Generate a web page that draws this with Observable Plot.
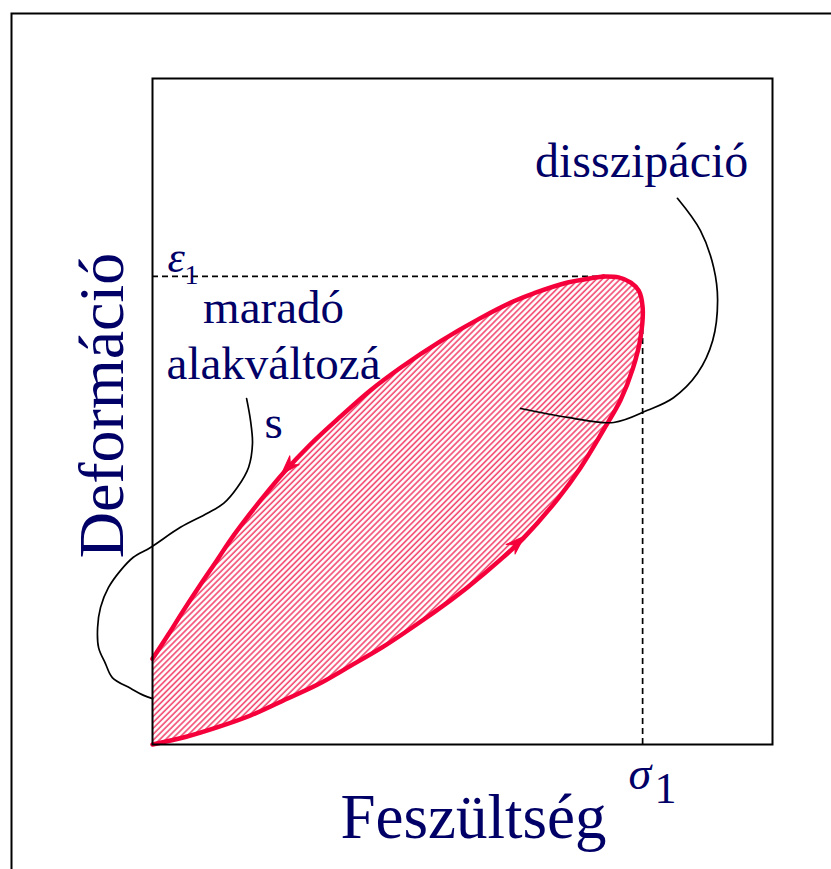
<!DOCTYPE html>
<html>
<head>
<meta charset="utf-8">
<script src="https://cdn.jsdelivr.net/npm/d3@7"></script>
<script src="https://cdn.jsdelivr.net/npm/@observablehq/plot@0.6"></script>
<style>
  body { margin: 0; background: #fff; }
  #chart { position: relative; width: 831px; height: 869px; overflow: hidden; }
</style>
</head>
<body>
<div id="chart"></div>
<script>
// Loading branch (stress σ / σ1, strain ε / ε1), from origin up to the peak
const lowerStress = [0.000, 0.067, 0.133, 0.200, 0.267, 0.337, 0.404, 0.471, 0.541, 0.608, 0.643, 0.710, 0.757, 0.827, 0.873, 0.920, 0.955, 0.980, 0.996, 1.000, 0.992, 0.976, 0.951, 0.920];
const lowerStrain = [0.000, 0.016, 0.037, 0.062, 0.094, 0.128, 0.168, 0.209, 0.258, 0.308, 0.336, 0.395, 0.441, 0.525, 0.591, 0.672, 0.736, 0.803, 0.871, 0.935, 0.970, 0.987, 0.998, 1.000];
// Unloading branch, from the peak back to zero stress (residual strain)
const upperStress = [0.920, 0.847, 0.778, 0.737, 0.669, 0.588, 0.506, 0.445, 0.384, 0.322, 0.267, 0.227, 0.190, 0.159, 0.133, 0.098, 0.063, 0.033, 0.000];
const upperStrain = [1.000, 0.987, 0.964, 0.947, 0.911, 0.862, 0.805, 0.757, 0.701, 0.641, 0.580, 0.530, 0.481, 0.437, 0.396, 0.342, 0.286, 0.236, 0.183];

// Reference values
const sigma1 = 1;
const epsilon1 = 1;
const stressAtEpsilon1 = 0.92;
const strainAtSigma1 = 0.91;

// Leader line for "disszipáció"
const dissStress = [1.071, 1.118, 1.145, 1.153, 1.143, 1.112, 1.063, 1.010, 0.941, 0.847, 0.751];
const dissStrain = [1.167, 1.098, 1.019, 0.949, 0.863, 0.793, 0.741, 0.714, 0.688, 0.699, 0.718];
// Leader line for "maradó alakváltozás"
const resStress = [0.192, 0.200, 0.204, 0.196, 0.173, 0.145, 0.112, 0.057, -0.004, -0.039, -0.065, -0.090, -0.106, -0.112, -0.110, -0.096, -0.082, -0.045, -0.018, 0.000];
const resStrain = [0.739, 0.692, 0.643, 0.592, 0.549, 0.515, 0.494, 0.464, 0.421, 0.400, 0.372, 0.335, 0.293, 0.250, 0.207, 0.173, 0.143, 0.120, 0.105, 0.098];

// Labels
const xLabel = "Feszültség";
const yLabel = "Deformáció";
const dissLabel = "disszipáció";
const residualLines = ["maradó", "alakváltozá", "s"];
const residualLineStrain = [0.900, 0.782, 0.654];
const residualLabelStress = 0.247;

// arrow positions (index into the branch arrays)
const arrowIndexLower = 12;
const arrowIndexUpper = 10;

const red = "#f5003a";
const navy = "#000066";
const serif = "Liberation Serif, Times New Roman, serif";

const toPts = (xs, ys) => xs.map((x, i) => ({x, y: ys[i]}));
const lower = toPts(lowerStress, lowerStrain);
const upper = toPts(upperStress, upperStrain);
const loop = lower.concat(upper.slice(1));
const dissLine = toPts(dissStress, dissStrain);
const resLine = toPts(resStress, resStrain);
const residualText = residualLines.map((t, i) => ({t, x: residualLabelStress, y: residualLineStrain[i]}));

const hatchDefs = () => {
  const defs = d3.create("svg:defs");
  const p = defs.append("pattern")
    .attr("id", "hatch")
    .attr("patternUnits", "userSpaceOnUse")
    .attr("width", 4.2).attr("height", 4.2)
    .attr("patternTransform", "rotate(45)");
  p.append("rect").attr("width", 4.2).attr("height", 4.2).attr("fill", "#fff");
  p.append("line").attr("x1", 1).attr("x2", 1).attr("y1", -1).attr("y2", 5.2)
    .attr("stroke", "#f2476e").attr("stroke-width", 1.6);
  return defs.node();
};

const arrowheads = (index, scales) => {
  const {x, y} = scales;
  const g = d3.create("svg:g").attr("fill", red).attr("stroke", red).attr("stroke-width", 1).attr("stroke-linejoin", "round");
  for (const [pts, i] of [[lower, arrowIndexLower], [upper, arrowIndexUpper]]) {
    const x0 = x(pts[i - 1].x), y0 = y(pts[i - 1].y);
    const x1 = x(pts[i].x), y1 = y(pts[i].y);
    const a = Math.atan2(y1 - y0, x1 - x0) * 180 / Math.PI;
    g.append("path")
      .attr("d", "M2,0L-17,-6.5L-11,0L-17,6.5Z")
      .attr("transform", `translate(${x1},${y1}) rotate(${a})`);
  }
  return g.node();
};

const chart = Plot.plot({
  width: 831,
  height: 869,
  marginLeft: 152,
  marginRight: 59,
  marginTop: 78,
  marginBottom: 125,
  style: {background: "#fff", overflow: "visible"},
  x: {domain: [0, 1.265], axis: null},
  y: {domain: [0, 1.423], axis: null},
  marks: [
    hatchDefs,
    Plot.line(loop, {x: "x", y: "y", curve: "catmull-rom", fill: "url(#hatch)", stroke: "none"}),
    Plot.ruleY([epsilon1], {x1: 0, x2: stressAtEpsilon1, stroke: "black", strokeWidth: 1.7, strokeDasharray: "6,4"}),
    Plot.ruleX([sigma1], {y1: 0, y2: strainAtSigma1, stroke: "black", strokeWidth: 1.7, strokeDasharray: "6,4"}),
    Plot.line(lower, {x: "x", y: "y", curve: "catmull-rom", stroke: red, strokeWidth: 4.5}),
    Plot.line(upper, {x: "x", y: "y", curve: "catmull-rom", stroke: red, strokeWidth: 4.5}),
    arrowheads,
    Plot.line(dissLine, {x: "x", y: "y", curve: "catmull-rom", stroke: "black", strokeWidth: 1.7}),
    Plot.line(resLine, {x: "x", y: "y", curve: "catmull-rom", stroke: "black", strokeWidth: 1.7}),
    Plot.frame({stroke: "black", strokeWidth: 2}),
    Plot.frame({stroke: "black", strokeWidth: 2, insetLeft: -141, insetTop: -65, insetRight: -120, insetBottom: -160}),
    // labels
    Plot.text([xLabel], {frameAnchor: "bottom", dx: 11, dy: 93, lineAnchor: "bottom", fontSize: 63, fontFamily: serif, fill: navy}),
    Plot.text([yLabel], {frameAnchor: "left", dx: -30, dy: -6, rotate: -90, lineAnchor: "bottom", textAnchor: "middle", fontSize: 64, fontFamily: serif, fill: navy}),
    Plot.text([dissLabel], {x: () => 0.998, y: () => 1.212, lineAnchor: "bottom", fontSize: 48, fontFamily: serif, fill: navy}),
    Plot.text(residualText, {x: "x", y: "y", text: "t", lineAnchor: "bottom", fontSize: 47, fontFamily: serif, fill: navy}),
    Plot.text(["ε"], {x: () => 0, y: () => epsilon1, dx: 15, dy: -4, textAnchor: "start", lineAnchor: "bottom", fontStyle: "italic", fontSize: 44, fontFamily: serif, fill: navy}),
    Plot.text(["1"], {x: () => 0, y: () => epsilon1, dx: 32, dy: 8, textAnchor: "start", lineAnchor: "bottom", fontSize: 28, fontFamily: serif, fill: navy}),
    Plot.text(["σ"], {x: () => sigma1, y: () => 0, dx: -14, dy: 44, textAnchor: "start", lineAnchor: "bottom", fontStyle: "italic", fontSize: 46, fontFamily: serif, fill: navy}),
    Plot.text(["1"], {x: () => sigma1, y: () => 0, dx: 12, dy: 58, textAnchor: "start", lineAnchor: "bottom", fontSize: 44, fontFamily: serif, fill: navy})
  ]
});
document.getElementById("chart").appendChild(chart);
</script>
</body>
</html>
